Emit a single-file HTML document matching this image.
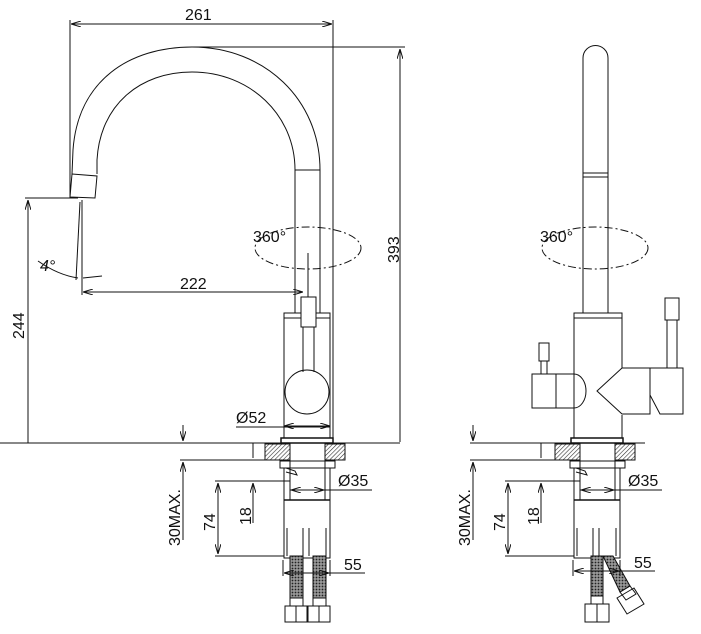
<!DOCTYPE html>
<html><head><style>body{margin:0;background:#fff}svg{display:block}text{font-family:"Liberation Sans",sans-serif;font-size:16px;fill:#111}</style></head>
<body>
<svg width="701" height="634" viewBox="0 0 701 634" xmlns="http://www.w3.org/2000/svg">
<defs>
<pattern id="h" width="3" height="3" patternUnits="userSpaceOnUse" patternTransform="rotate(45)"><line x1="0" y1="0" x2="0" y2="3" stroke="#333" stroke-width="1.2"/></pattern>
<pattern id="b" width="3" height="3" patternUnits="userSpaceOnUse"><rect width="3" height="3" fill="#999"/><circle cx="1.5" cy="1.5" r="0.9" fill="#222"/></pattern>
<marker id="a" viewBox="0 0 10 6" refX="10" refY="3" markerWidth="10" markerHeight="6" orient="auto-start-reverse"><path d="M0,0L10,3L0,6" fill="none" stroke="#111" stroke-width="1"/></marker>
</defs>
<g fill="none" stroke="#111" stroke-width="1">
<!-- LEFT VIEW -->
<line x1="70" y1="20" x2="70" y2="198"/>
<line x1="333" y1="20" x2="333" y2="443"/>
<line x1="71" y1="24" x2="332" y2="24" marker-start="url(#a)" marker-end="url(#a)"/>
<line x1="192" y1="47" x2="405" y2="47"/>
<line x1="400" y1="49" x2="400" y2="442" marker-start="url(#a)"/>
<path d="M72,174 L73,150 C78,80 130,47 192,47 C265,47 320,100 320,170"/>
<path d="M97,174 L97,160 C100,105 140,72 192,72 C250,72 295,115 295,170"/>
<path d="M72,174 L97,176 L95,198 L70,197 Z"/>
<line x1="295" y1="170" x2="320" y2="170"/>
<line x1="295" y1="170" x2="295" y2="313"/>
<line x1="320" y1="170" x2="320" y2="313"/>
<line x1="25" y1="198" x2="78" y2="198"/>
<line x1="28" y1="200" x2="28" y2="443" marker-start="url(#a)"/>
<line x1="82" y1="200" x2="82" y2="295"/>
<line x1="80" y1="202" x2="76" y2="280"/>
<path d="M38,261 Q58,275 78,278" />
<line x1="83" y1="278" x2="102" y2="276"/>
<line x1="83" y1="292" x2="303" y2="292" marker-start="url(#a)" marker-end="url(#a)"/>
<ellipse cx="308" cy="248" rx="53" ry="21" stroke-dasharray="8,3,2,3"/>
<line x1="308" y1="253" x2="308" y2="297"/>
<rect x="284" y="313" width="46" height="125"/>
<line x1="284" y1="318" x2="330" y2="318"/>
<rect x="301" y="297" width="15" height="30" fill="#fff"/>
<line x1="303" y1="327" x2="303" y2="372"/><line x1="314" y1="327" x2="314" y2="372"/>
<circle cx="307" cy="392" r="22"/>
<line x1="236" y1="427" x2="330" y2="427"/>
<line x1="284" y1="426" x2="330" y2="426" marker-start="url(#a)" marker-end="url(#a)"/>
<rect x="281" y="438" width="52" height="5" stroke-width="1.5"/>
<line x1="0" y1="443" x2="400" y2="443"/>
<rect x="265" y="444" width="25" height="16" fill="url(#h)"/>
<rect x="325" y="444" width="20" height="16" fill="url(#h)"/>
<line x1="290" y1="443" x2="290" y2="500"/><line x1="325" y1="443" x2="325" y2="500"/>
<rect x="280" y="461" width="55" height="7"/>
<path d="M286,468 L295,471 L297,475 L286,472"/>
<line x1="284" y1="468" x2="284" y2="500"/><line x1="330" y1="468" x2="330" y2="500"/>
<line x1="180" y1="460" x2="290" y2="460"/>
<line x1="183" y1="425" x2="183" y2="441" marker-end="url(#a)"/>
<line x1="183" y1="540" x2="183" y2="462" marker-end="url(#a)"/>
<line x1="253" y1="443" x2="253" y2="458" />
<line x1="253" y1="523" x2="253" y2="483" marker-end="url(#a)"/>
<line x1="215" y1="481" x2="290" y2="481"/>
<line x1="218" y1="483" x2="218" y2="554" marker-start="url(#a)" marker-end="url(#a)"/>
<line x1="215" y1="556" x2="284" y2="556"/>
<line x1="290" y1="490" x2="372" y2="490"/>
<line x1="291" y1="490" x2="324" y2="490" marker-start="url(#a)" marker-end="url(#a)"/>
<rect x="284" y="500" width="46" height="58"/>
<line x1="284" y1="500" x2="330" y2="500" stroke-width="1.5"/>
<line x1="287" y1="528" x2="287" y2="556"/><line x1="303" y1="528" x2="303" y2="556"/><line x1="309" y1="528" x2="309" y2="556"/><line x1="326" y1="528" x2="326" y2="556"/>
<rect x="290" y="556" width="13" height="42" fill="url(#b)"/>
<rect x="313" y="556" width="13" height="42" fill="url(#b)"/>
<rect x="290" y="598" width="13" height="8"/><rect x="313" y="598" width="13" height="8"/>
<rect x="285" y="606" width="22" height="16"/><rect x="308" y="606" width="22" height="16"/>
<line x1="296" y1="606" x2="296" y2="622"/><line x1="319" y1="606" x2="319" y2="622"/>
<line x1="283" y1="560" x2="283" y2="576"/><line x1="330" y1="560" x2="330" y2="576"/>
<line x1="284" y1="573" x2="365" y2="573"/>
<line x1="284" y1="573" x2="329" y2="573" marker-start="url(#a)" marker-end="url(#a)"/>

<!-- RIGHT VIEW -->
<path d="M583,313 L583,58 A12.5,12.5 0 0 1 608,58 L608,313"/>
<line x1="583" y1="173" x2="608" y2="173"/><line x1="583" y1="177" x2="608" y2="177"/>
<ellipse cx="595" cy="248" rx="53" ry="21" stroke-dasharray="8,3,2,3"/>
<rect x="574" y="313" width="48" height="5"/>
<path d="M574,318 L574,438 M622,318 L622,368 M622,415 L622,438"/>
<path d="M574,374 A12,17 0 0 1 574,408"/>
<rect x="532" y="374" width="24" height="34"/>
<line x1="556" y1="374" x2="574" y2="374"/><line x1="556" y1="408" x2="574" y2="408"/>
<rect x="539" y="343" width="10" height="18"/>
<line x1="541" y1="361" x2="541" y2="374"/><line x1="547" y1="361" x2="547" y2="374"/>
<path d="M622,368 L650,368 L650,414 L622,414 L597,391 Z"/>
<path d="M650,368 L683,368 L683,414 L660,414 L650,395"/>
<rect x="665" y="298" width="14" height="22"/>
<line x1="667" y1="320" x2="667" y2="368"/><line x1="677" y1="320" x2="677" y2="368"/>
<rect x="571" y="438" width="52" height="5" stroke-width="1.5"/>
<line x1="470" y1="443" x2="645" y2="443"/>
<rect x="555" y="444" width="25" height="16" fill="url(#h)"/>
<rect x="615" y="444" width="20" height="16" fill="url(#h)"/>
<line x1="580" y1="443" x2="580" y2="500"/><line x1="615" y1="443" x2="615" y2="500"/>
<rect x="570" y="461" width="55" height="7"/>
<path d="M576,468 L585,471 L587,475 L576,472"/>
<line x1="574" y1="468" x2="574" y2="500"/><line x1="620" y1="468" x2="620" y2="500"/>
<line x1="470" y1="460" x2="580" y2="460"/>
<line x1="473" y1="425" x2="473" y2="441" marker-end="url(#a)"/>
<line x1="473" y1="540" x2="473" y2="462" marker-end="url(#a)"/>
<line x1="541" y1="443" x2="541" y2="458"/>
<line x1="541" y1="523" x2="541" y2="483" marker-end="url(#a)"/>
<line x1="505" y1="481" x2="580" y2="481"/>
<line x1="508" y1="483" x2="508" y2="554" marker-start="url(#a)" marker-end="url(#a)"/>
<line x1="505" y1="556" x2="574" y2="556"/>
<line x1="580" y1="490" x2="662" y2="490"/>
<line x1="581" y1="490" x2="614" y2="490" marker-start="url(#a)" marker-end="url(#a)"/>
<rect x="574" y="500" width="46" height="58"/>
<line x1="574" y1="500" x2="620" y2="500" stroke-width="1.5"/>
<line x1="577" y1="528" x2="577" y2="556"/><line x1="593" y1="528" x2="593" y2="556"/><line x1="599" y1="528" x2="599" y2="556"/><line x1="616" y1="528" x2="616" y2="556"/>
<rect x="591" y="556" width="12" height="40" fill="url(#b)"/>
<path d="M603,556 L613,556 L630,586 L620,592 Z" fill="url(#b)"/>
<rect x="591" y="596" width="12" height="8"/>
<rect x="585" y="604" width="24" height="18"/>
<line x1="597" y1="604" x2="597" y2="622"/>
<path d="M620,592 L630,586 L636,594 L626,600 Z"/>
<path d="M617,598 L634,588 L644,604 L627,614 Z"/>
<line x1="573" y1="560" x2="573" y2="576"/><line x1="620" y1="560" x2="620" y2="576"/>
<line x1="574" y1="571" x2="655" y2="571"/>
<line x1="574" y1="571" x2="619" y2="571" marker-start="url(#a)" marker-end="url(#a)"/>
</g>
<text x="185" y="20">261</text>
<text x="180" y="289">222</text>
<text x="253" y="242">360°</text>
<text x="540" y="242">360°</text>
<text x="40" y="271" font-style="italic" font-size="13">4°</text>
<text x="236" y="423">Ø52</text>
<text x="338" y="486">Ø35</text>
<text x="628" y="486">Ø35</text>
<text x="344" y="570">55</text>
<text x="634" y="568">55</text>
<text transform="translate(399,263) rotate(-90)">393</text>
<text transform="translate(24,339) rotate(-90)">244</text>
<text transform="translate(180,546) rotate(-90)">30MAX.</text>
<text transform="translate(215,531) rotate(-90)">74</text>
<text transform="translate(251,525) rotate(-90)">18</text>
<text transform="translate(470,546) rotate(-90)">30MAX.</text>
<text transform="translate(505,531) rotate(-90)">74</text>
<text transform="translate(539,525) rotate(-90)">18</text>
</svg>
</body></html>
